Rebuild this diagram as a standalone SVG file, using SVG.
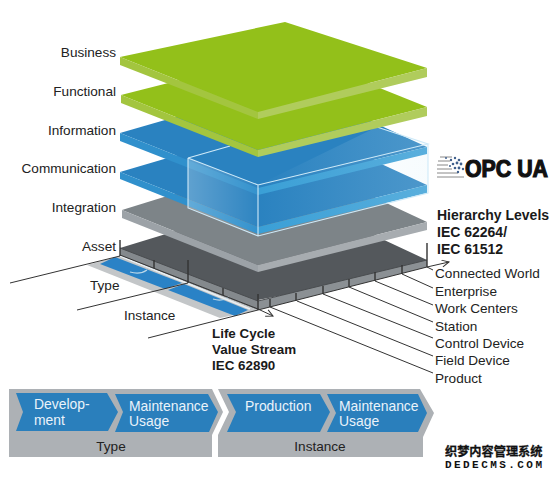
<svg xmlns="http://www.w3.org/2000/svg" width="553" height="478" viewBox="0 0 553 478">
<style>
text{font-family:"Liberation Sans",Arial,sans-serif;font-size:13.6px;fill:#222}
.r{text-anchor:end}
.b{font-weight:bold;fill:#1a1a1a;font-size:13.4px}
.h{font-size:14px}
.w{fill:#eaf3fa;font-size:13.9px}
.c{text-anchor:middle}
.gt{fill:#93c01a}.gs{fill:#b0cc5c}.gf{fill:#a3c53f}
.bt{fill:#2a82c0}.bs{fill:#3a9fd6}.bf{fill:#3090cc}
.l{stroke:#333;stroke-width:1;fill:none}
.t{stroke:#333;stroke-width:1.4;fill:none}
.ch{fill:#2a7fbc}
.bx{fill:none;stroke:#cfeaf8;stroke-width:1.1}
.dot{fill:#3f5f8c}
</style>
<defs>
<linearGradient id="fade" x1="188" y1="0" x2="258" y2="0" gradientUnits="userSpaceOnUse">
<stop offset="0" stop-color="#fff" stop-opacity=".25"/><stop offset="1" stop-color="#fff" stop-opacity=".02"/>
</linearGradient>
<linearGradient id="fade2" x1="258" y1="0" x2="428" y2="0" gradientUnits="userSpaceOnUse">
<stop offset="0" stop-color="#d8eef8" stop-opacity="0"/><stop offset="1" stop-color="#d8eef8" stop-opacity=".2"/>
</linearGradient>
<marker id="arr" markerWidth="10" markerHeight="10" refX="8" refY="4" orient="auto" markerUnits="userSpaceOnUse">
<path d="M1 0.5 L8 4 L1 7.5" fill="none" stroke="#333" stroke-width="1"/>
</marker>
</defs>

<g id="asset">
<path d="M120 248 L290 196 L427 260 L427 267 L258 300 L258 310 L120 256Z" fill="#54585c"/>
<path d="M120 248 L258 301 L258 310 L120 256Z" fill="#84898d"/>
<path d="M258 301 L427 260 L427 267 L258 310Z" fill="#8b9094"/>
<path d="M120 248 L258 301 L427 260" fill="none" stroke="#4a4d50" stroke-width="1"/>
<text class="r" x="116" y="251">Asset</text>
</g>
<g id="integration">
<path d="M122 210 L290 158 L427 222 L258 265Z" fill="#7d8488"/>
<path d="M122 210 L258 265 L258 272 L122 218Z" fill="#9ca2a7"/>
<path d="M258 265 L427 222 L427 230 L258 272Z" fill="#a7acb0"/>
<text class="r" x="116" y="212">Integration</text>
</g>
<g id="communication">
<path d="M120 172 L290 122 L427 185 L258 227Z" class="bt"/>
<path d="M120 172 L258 227 L258 234 L120 179Z" class="bf"/>
<path d="M258 227 L427 185 L427 193 L258 234Z" class="bs"/>
<text class="r" x="116" y="173">Communication</text>
</g>
<g id="information">
<path d="M120 133 L290 84 L427 147 L258 188Z" class="bt"/>
<path d="M120 133 L258 188 L258 195 L120 141Z" class="bf"/>
<path d="M258 188 L427 147 L427 154 L258 195Z" class="bs"/>
<text class="r" x="116" y="135">Information</text>
</g>
<g id="box">
<path d="M188 158 L258 185 L258 236 L188 208Z" fill="url(#fade)"/>
<path d="M258 185 L428 144 L428 193 L258 236Z" fill="url(#fade2)"/>
<path d="M377 127 L428 144 L258 185Z" fill="url(#fade2)"/>
<path d="M188 158 L258 185 L428 144 L377 127 M188 158 L230 146 M188 158 L188 208 L258 236 L428 193 L428 144 M258 185 L258 236" class="bx"/>
</g>
<g id="functional">
<path d="M121 95 L290 52 L427 107 L258 150Z" class="gt"/>
<path d="M121 95 L258 150 L258 157 L121 103Z" class="gf"/>
<path d="M258 150 L427 107 L427 116 L258 157Z" class="gs"/>
<text class="r" x="116" y="96">Functional</text>
</g>
<g id="business">
<path d="M120 57 L285 22 L427 68 L258 112Z" class="gt"/>
<path d="M120 57 L258 112 L258 119 L120 65Z" class="gf"/>
<path d="M258 112 L427 68 L427 77 L258 119Z" class="gs"/>
<text class="r" x="116" y="57">Business</text>
</g>

<g id="lifecycle-strip">
<path d="M87 265 L120 256 L258 310 L220 318Z" fill="#c3c6c8"/>
<path d="M100 264 L115 257 L182 283 L165 289Z" fill="#2a82c6"/>
<path d="M168 290 L184 284 L248 310 L235 316Z" fill="#2a82c6"/>
<path d="M130 272 Q140 275 147 270 M213 299 Q222 302 229 297" fill="none" stroke="#b9d6e8" stroke-width="1.2"/>
<path d="M120 256 L250 309" fill="none" stroke="#e8eef2" stroke-width="1.5"/>
</g>

<g id="connectors">
<path class="t" d="M120 240 V256 M154 260 V268 M188 260 V283 M223 288 V295 M258 294 V310 M270 299 V307 M296 293 V301 M323 286 V294 M349 279 V287 M375 272 V281 M402 265 V274 M427 243 V267"/>
<path class="l" d="M10 283 L120 256 M77 310 L188 283 M148 338 L258 310"/>
<path class="l" d="M120 255 L258 309 L273 316" marker-end="url(#arr)"/>
<path class="l" d="M258 310 L427 267 L449 262" marker-end="url(#arr)"/>
<path class="l" d="M427 267 L433 270 M402 274 L433 288 M375 281 L433 305 M349 287 L433 322 M323 294 L433 338 M297 301 L433 356 M270 307 L433 373"/>
</g>

<g id="axis-labels">
<text x="90" y="290">Type</text>
<text x="124" y="320">Instance</text>
<text class="b" x="212" y="338">Life Cycle</text>
<text class="b" x="212" y="354">Value Stream</text>
<text class="b" x="212" y="370">IEC 62890</text>
<text class="b h" x="437" y="220">Hierarchy Levels</text>
<text class="b h" x="437" y="237">IEC 62264/</text>
<text class="b h" x="437" y="254">IEC 61512</text>
<text x="435" y="278">Connected World</text>
<text x="435" y="296">Enterprise</text>
<text x="435" y="313">Work Centers</text>
<text x="435" y="331">Station</text>
<text x="435" y="348">Control Device</text>
<text x="435" y="365">Field Device</text>
<text x="435" y="383">Product</text>
</g>

<g id="opc-ua">
<path d="M440 157 H452 M438 161 H450 M437 165 H448 M437 169 H452 M437 173 H458 M437 177 H464" stroke="#888" stroke-width="1" fill="none"/>
<g class="dot">
<circle cx="446" cy="158" r="1"/><circle cx="451" cy="160" r="1.2"/><circle cx="455" cy="158" r="1.2"/><circle cx="459" cy="160" r="1.3"/>
<circle cx="453" cy="164" r="1.3"/><circle cx="457" cy="163" r="1.4"/><circle cx="461" cy="164" r="1.4"/><circle cx="450" cy="166" r="1"/>
<circle cx="455" cy="168" r="1.3"/><circle cx="459" cy="168" r="1.4"/><circle cx="463" cy="169" r="1.2"/><circle cx="458" cy="172" r="1.2"/>
</g>
<text x="465" y="177" textLength="83" lengthAdjust="spacingAndGlyphs" style="font-size:23px;fill:#111;font-weight:bold;stroke:#111;stroke-width:1.2">OPC UA</text>
</g>

<g id="type-band">
<path d="M9 389 H212 L223 412 L212 435 V457 H9Z" fill="#adb1b5"/>
<text class="c" x="111" y="451">Type</text>
</g>
<g id="instance-band">
<path d="M218 389 H420 L434 413 L423 437 V457 H218 V435 L229 412 L218 389Z" fill="#adb1b5"/>
<text class="c" x="320" y="451">Instance</text>
</g>
<g id="development">
<path class="ch" d="M16 393 H107 L118 412 L108 431 H16 L23 412Z"/>
<text class="w" x="34" y="409">Develop-</text>
<text class="w" x="34" y="425">ment</text>
</g>
<g id="maintenance-1">
<path class="ch" d="M115 394 H208 L218 412 L209 432 H115 L123 412Z"/>
<text class="w" x="129" y="411">Maintenance</text>
<text class="w" x="129" y="426">Usage</text>
</g>
<g id="production">
<path class="ch" d="M227 394 H320 L330 412 L320 432 H227 L236 412Z"/>
<text class="w" x="245" y="411">Production</text>
</g>
<g id="maintenance-2">
<path class="ch" d="M327 394 H418 L427 413 L418 432 H327 L336 413Z"/>
<text class="w" x="339" y="411">Maintenance</text>
<text class="w" x="339" y="426">Usage</text>
</g>

<g id="watermark">
<text x="445" y="456" style="font-family:'Noto Sans CJK SC','Liberation Sans',sans-serif;font-size:12.2px;font-weight:bold;fill:#111;stroke:#111;stroke-width:.3">织梦内容管理系统</text>
<text x="445" y="468" textLength="97" style="font-family:'Liberation Mono',monospace;font-size:11px;font-weight:bold;fill:#111">DEDECMS.COM</text>
</g>
</svg>
